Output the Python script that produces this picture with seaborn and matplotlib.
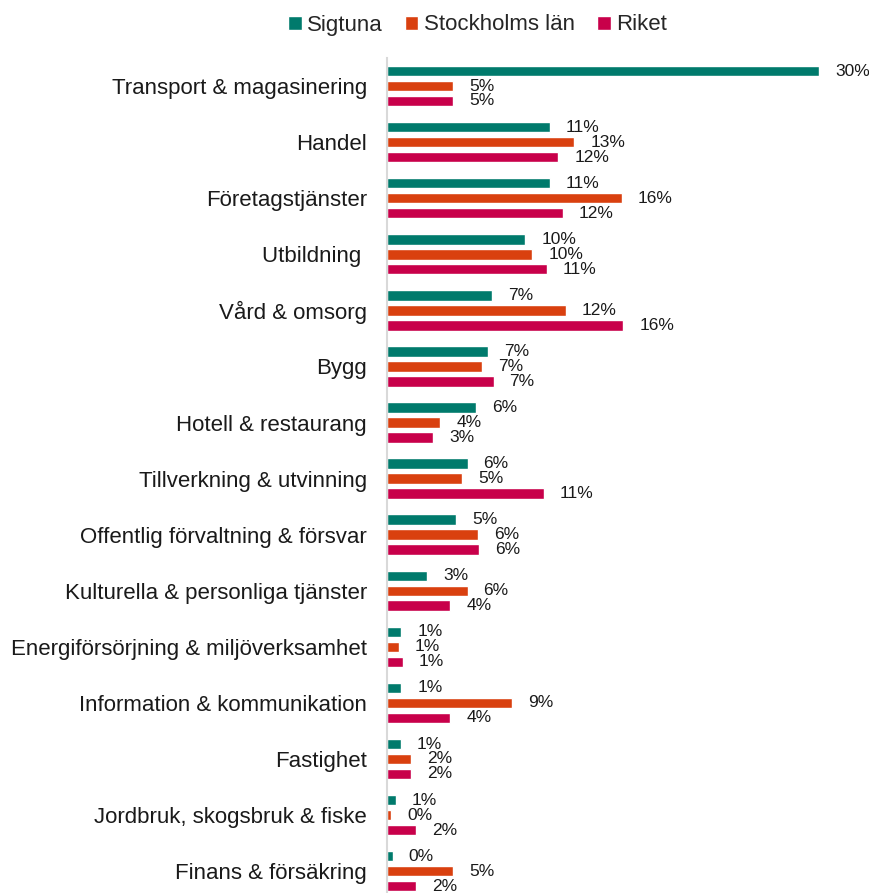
import numpy as np
import pandas as pd
import seaborn as sns
import matplotlib.pyplot as plt
from matplotlib.patches import Patch

sns.set_style('white')
plt.rcParams['font.family'] = ['Liberation Sans', 'DejaVu Sans']

branscher = ["Transport & magasinering", "Handel", "Företagstjänster", "Utbildning ",
             "Vård & omsorg", "Bygg", "Hotell & restaurang", "Tillverkning & utvinning",
             "Offentlig förvaltning & försvar", "Kulturella & personliga tjänster",
             "Energiförsörjning & miljöverksamhet", "Information & kommunikation",
             "Fastighet", "Jordbruk, skogsbruk & fiske", "Finans & försäkring"]
serier = ["Sigtuna", "Stockholms län", "Riket"]

sigtuna = [30.0, 11.3, 11.3, 9.6, 7.3, 7.0, 6.2, 5.6, 4.8, 2.8, 1.0, 1.0, 0.95, 0.6, 0.4]
stockholm = [4.6, 13.0, 16.3, 10.1, 12.4, 6.6, 3.7, 5.2, 6.3, 5.6, 0.8, 8.7, 1.7, 0.3, 4.6]
riket = [4.6, 11.9, 12.2, 11.1, 16.4, 7.4, 3.2, 10.9, 6.4, 4.4, 1.1, 4.4, 1.7, 2.0, 2.0]

farger = ["#007A6C", "#D9400F", "#C8004A"]

df = pd.DataFrame({"Sigtuna": sigtuna, "Stockholms län": stockholm, "Riket": riket},
                  index=branscher)
d_melt = df.reset_index().melt(id_vars="index", var_name="Område", value_name="Andel")
d_melt.columns = ["Bransch", "Område", "Andel"]

fig = plt.figure(figsize=(8.7, 8.93), dpi=100)
ax = fig.add_axes([387 / 870, 0.0, (819 - 387) / 870, 1 - 58 / 893])

sns.barplot(data=d_melt, y="Bransch", x="Andel", hue="Område", hue_order=serier,
            palette=farger, saturation=1, orient="h", width=0.8, gap=0.3,
            legend=False, ax=ax)

for cont in ax.containers:
    ax.bar_label(cont, fmt="{:.0f}%", padding=11.5, fontsize=12.5, color="#1a1a1a")

ax.set_xlim(0, 30)
ax.set_ylim(14.39, -0.5)
ax.set_xlabel("")
ax.set_ylabel("")
ax.set_xticks([])
ax.tick_params(axis="y", length=0, pad=14.4, labelsize=16, labelcolor="#1a1a1a")
for s in ["top", "right", "bottom"]:
    ax.spines[s].set_visible(False)
ax.spines["left"].set_color("#d9d9d9")
ax.spines["left"].set_linewidth(1.5)

handles = [Patch(facecolor=c, label=n) for c, n in zip(farger, serier)]
fig.legend(handles=handles, loc="center", bbox_to_anchor=(0.549, 1 - 25 / 893), ncol=3,
           frameon=False, fontsize=16, handlelength=0.6, handleheight=0.6,
           handletextpad=0.25, columnspacing=1.0)

fig.savefig("out.png", dpi=100)
